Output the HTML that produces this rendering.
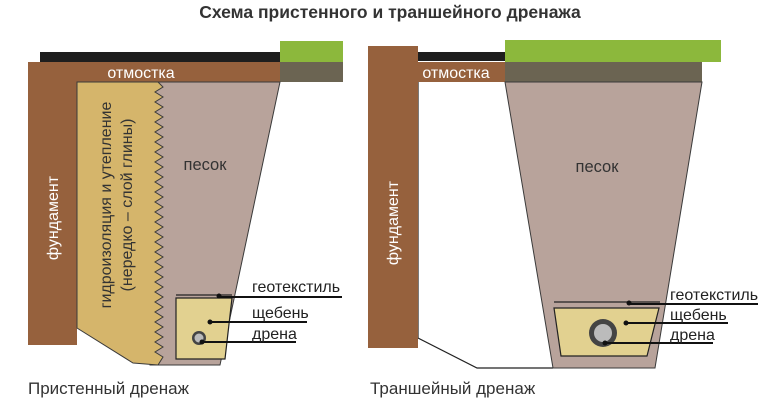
<!DOCTYPE html>
<html><head><meta charset="utf-8"><style>
html,body{margin:0;padding:0;background:#fff;}
svg{display:block;font-family:"Liberation Sans",sans-serif;}
</style></head><body>
<svg width="768" height="402" viewBox="0 0 768 402">
<text x="390" y="18" text-anchor="middle" font-size="17.5" font-weight="bold" fill="#333">Схема пристенного и траншейного дренажа</text>

<!-- LEFT -->
<rect x="40" y="52" width="240" height="10" fill="#1e1e1e"/>
<rect x="280" y="41" width="63" height="21" fill="#8cb83c"/>
<rect x="280" y="62" width="63" height="20" fill="#6b6452"/>
<rect x="28" y="62" width="252" height="20" fill="#96613d"/>
<rect x="28" y="62" width="49" height="283" fill="#96613d"/>
<polygon points="150,82 280,82 220,365 150,365" fill="#b8a39b" stroke="#3a3a3a" stroke-width="1"/>
<polygon points="77,82 158,82 163,87 155,92 163,97 155,102 163,107 155,112 163,117 155,122 163,127 155,132 163,137 155,142 163,147 155,152 163,157 155,162 163,167 155,172 163,177 155,182 163,187 155,192 163,197 155,202 163,207 155,212 163,217 155,222 163,227 155,232 163,237 155,242 163,247 155,252 163,257 155,262 163,267 155,272 163,277 155,282 163,287 155,292 163,297 155,302 163,307 155,312 163,317 155,322 163,327 155,332 163,337 155,342 163,347 155,352 163,357 158,365 133,363 77,328" fill="#d5b56b" stroke="#3a3a3a" stroke-width="1"/>
<polygon points="176,298 232,298 225,359 176,359" fill="#e2d190" stroke="#222" stroke-width="1.2"/>
<line x1="176" y1="295" x2="232" y2="295" stroke="#222" stroke-width="1.2"/>
<circle cx="199" cy="338" r="7" fill="#444"/><circle cx="199" cy="338" r="4.5" fill="#bbb"/>
<circle cx="219" cy="296" r="2.5" fill="#111"/><line x1="219" y1="297" x2="342" y2="297" stroke="#111" stroke-width="2"/>
<circle cx="210" cy="322" r="2.5" fill="#111"/><line x1="210" y1="322" x2="307" y2="322" stroke="#111" stroke-width="2"/>
<circle cx="202" cy="342" r="2.5" fill="#111"/><line x1="202" y1="342" x2="296" y2="342" stroke="#111" stroke-width="2"/>
<text x="252" y="292" font-size="16" fill="#222">геотекстиль</text>
<text x="252" y="318" font-size="16" fill="#222">щебень</text>
<text x="252" y="339" font-size="16" fill="#222">дрена</text>
<text x="141" y="78" text-anchor="middle" font-size="16" fill="#fff">отмостка</text>
<text x="205" y="170" text-anchor="middle" font-size="16.5" fill="#333">песок</text>
<text transform="translate(58,218) rotate(-90)" text-anchor="middle" font-size="16" fill="#fff">фундамент</text>
<text transform="translate(111,205) rotate(-90)" text-anchor="middle" font-size="16" fill="#333">гидроизоляция и утепление</text>
<text transform="translate(132,205) rotate(-90)" text-anchor="middle" font-size="16" fill="#333">(нередко – слой глины)</text>
<text x="28" y="394" font-size="17" fill="#333">Пристенный дренаж</text>

<!-- RIGHT -->
<polyline points="418,82 418,338 477,368 553,368" fill="none" stroke="#222" stroke-width="1.2"/>
<rect x="381" y="52" width="124" height="9" fill="#1e1e1e"/>
<rect x="505" y="40" width="216" height="22" fill="#8cb83c"/>
<rect x="505" y="62" width="197" height="20" fill="#6b6452"/>
<rect x="368" y="62" width="137" height="20" fill="#96613d"/>
<rect x="368" y="46" width="50" height="302" fill="#96613d"/>
<polygon points="505,82 702,82 655,368 553,368" fill="#b8a39b" stroke="#3a3a3a" stroke-width="1"/>
<polygon points="554,308 659,308 647,356 561,356" fill="#e2d190" stroke="#222" stroke-width="1.2"/>
<line x1="554" y1="302" x2="660" y2="302" stroke="#222" stroke-width="1.2"/>
<circle cx="603" cy="333" r="14" fill="#444"/><circle cx="603" cy="333" r="9" fill="#bbb"/>
<circle cx="629" cy="303" r="2.5" fill="#111"/><line x1="629" y1="304" x2="758" y2="304" stroke="#111" stroke-width="2"/>
<circle cx="626" cy="323" r="2.5" fill="#111"/><line x1="626" y1="323" x2="728" y2="323" stroke="#111" stroke-width="2"/>
<circle cx="605" cy="343" r="2.5" fill="#111"/><line x1="605" y1="343" x2="713" y2="343" stroke="#111" stroke-width="2"/>
<text x="670" y="300" font-size="16" fill="#222">геотекстиль</text>
<text x="670" y="320" font-size="16" fill="#222">щебень</text>
<text x="670" y="340" font-size="16" fill="#222">дрена</text>
<text x="456" y="78" text-anchor="middle" font-size="16" fill="#fff">отмостка</text>
<text x="597" y="172" text-anchor="middle" font-size="16.5" fill="#333">песок</text>
<text transform="translate(398,223) rotate(-90)" text-anchor="middle" font-size="16" fill="#fff">фундамент</text>
<text x="370" y="394" font-size="17" fill="#333">Траншейный дренаж</text>
</svg>
</body></html>
